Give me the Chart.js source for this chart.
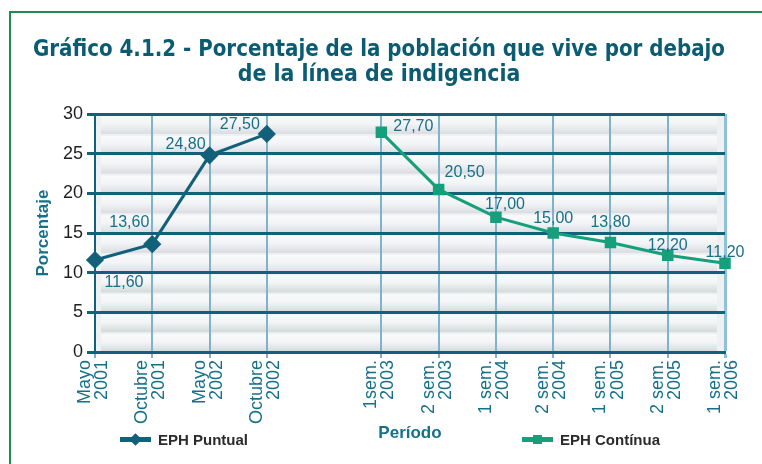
<!DOCTYPE html>
<html>
<head>
<meta charset="utf-8">
<script src="https://cdn.jsdelivr.net/npm/chart.js@4.4.1/dist/chart.umd.min.js"></script>
<style>
  html, body { margin: 0; padding: 0; background: #fff; overflow: hidden; }
  #wrap { position: relative; width: 762px; height: 464px; }
  #frame { position: absolute; left: 9px; top: 11px; width: 800px; height: 500px;
           border-left: 2px solid #1f8b52; border-top: 2px solid #1f8b52; }
  #chartBox { position: absolute; left: 0; top: 0; width: 762px; height: 464px; }
  .legend { position: absolute; top: 431px; font: bold 15px "Liberation Sans", Arial, sans-serif;
            color: #2b2b2b; display: flex; align-items: center; }
  .legend .ln { position: relative; width: 31px; height: 5px; margin-right: 7px; }
  .legend .mk { position: absolute; left: 50%; top: 50%; width: 9px; height: 9px; margin: -4.5px 0 0 -4.5px; }
  .legend .diamond { transform: rotate(45deg); }
</style>
</head>
<body>
<div id="wrap">
  <div id="frame"></div>
  <div id="chartBox"><canvas id="indigenciaChart"></canvas></div>
  <div class="legend" style="left:120px">
    <span class="ln" style="background:#12607a"><span class="mk diamond" style="background:#12607a"></span></span>EPH Puntual
  </div>
  <div class="legend" style="left:522px">
    <span class="ln" style="background:#15a07b"><span class="mk" style="background:#15a07b"></span></span>EPH Contínua
  </div>
</div>
<script>
document.addEventListener('DOMContentLoaded', () => {

    // periodos (el indice 4 queda vacio: hueco entre las dos series)
    const periodos = [
        ['Mayo', '2001'], ['Octubre', '2001'], ['Mayo', '2002'], ['Octubre', '2002'],
        '',
        ['1sem.', '2003'], ['2 sem.', '2003'], ['1 sem.', '2004'], ['2 sem.', '2004'],
        ['1 sem.', '2005'], ['2 sem.', '2005'], ['1 sem.', '2006']
    ];
    const ephPuntual = [11.6, 13.6, 24.8, 27.5, null, null, null, null, null, null, null, null];
    const ephContinua = [null, null, null, null, null, 27.7, 20.5, 17.0, 15.0, 13.8, 12.2, 11.2];
    const yTicks = [0, 5, 10, 15, 20, 25, 30];

    const teal = '#12607a';
    const green = '#15a07b';
    const labelTeal = '#17708a';

    // fondo a franjas del area del grafico
    const stripedBackground = {
        id: 'stripedBackground',
        beforeDraw(chart) {
            const { ctx, chartArea: a, scales: { y } } = chart;
            ctx.save();
            ctx.fillStyle = '#eef0f2';
            ctx.fillRect(a.left, a.top, a.right - a.left, a.bottom - a.top);
            for (let v = 0; v < 30; v += 2.5) {
                const top = y.getPixelForValue(v + 2.5);
                const bot = y.getPixelForValue(v);
                const g = ctx.createLinearGradient(0, top, 0, bot);
                const dark = v < 10 ? '#d0dad6' : '#d9dce1';
                g.addColorStop(0, '#fbfbfc');
                g.addColorStop(0.5, '#f3f4f6');
                g.addColorStop(1, dark);
                ctx.fillStyle = g;
                ctx.fillRect(a.left + 6, top + 2, a.right - a.left - 14, bot - top - 2);
            }
            ctx.restore();
        }
    };

    // etiquetas de valor junto a cada punto
    const valueLabels = {
        id: 'valueLabels',
        afterDatasetsDraw(chart, args, opts) {
            const { ctx } = chart;
            ctx.save();
            ctx.font = '16px "Liberation Sans", Arial, sans-serif';
            ctx.fillStyle = labelTeal;
            ctx.textAlign = 'center';
            ctx.textBaseline = 'middle';
            chart.data.datasets.forEach((ds, di) => {
                const meta = chart.getDatasetMeta(di);
                const offs = opts.offsets[di];
                let k = 0;
                ds.data.forEach((v, i) => {
                    if (v === null) return;
                    const p = meta.data[i];
                    const o = offs[k++];
                    ctx.fillText(v.toFixed(2).replace('.', ','), p.x + o[0], p.y + o[1]);
                });
            });
            ctx.restore();
        }
    };

    const ctx = document.getElementById('indigenciaChart').getContext('2d');
    new Chart(ctx, {
        type: 'line',
        data: {
            labels: periodos,
            datasets: [{
                label: 'EPH Puntual',
                data: ephPuntual,
                borderColor: teal,
                backgroundColor: teal,
                borderWidth: 3,
                pointStyle: 'rectRot',
                pointRadius: 7,
                pointHoverRadius: 7,
                spanGaps: false
            }, {
                label: 'EPH Contínua',
                data: ephContinua,
                borderColor: green,
                backgroundColor: green,
                borderWidth: 3,
                pointStyle: 'rect',
                pointRadius: 6,
                pointHoverRadius: 6,
                spanGaps: false
            }]
        },
        options: {
            responsive: true,
            maintainAspectRatio: false,
            animation: false,
            layout: { padding: { left: 33, right: 37, top: 0, bottom: 20 } },
            scales: {
                x: {
                    type: 'category',
                    offset: false,
                    afterFit: (scale) => { scale.height = 92; },
                    grid: {
                        offset: false,
                        color: (c) => periodos[c.index] === '' ? 'rgba(0,0,0,0)' : (c.index === 11 ? '#8ec1da' : '#7fb2cd'),
                        lineWidth: (c) => c.index === 11 ? 3 : 2,
                        tickLength: 6
                    },
                    border: { color: teal, width: 3 },
                    ticks: {
                        autoSkip: false,
                        maxRotation: 90,
                        minRotation: 90,
                        labelOffset: -10,
                        color: labelTeal,
                        padding: 2,
                        font: { family: '"Liberation Sans", Arial, sans-serif', size: 18, lineHeight: 0.95 }
                    },
                    title: {
                        display: true,
                        text: 'Período',
                        color: labelTeal,
                        padding: { top: 0, bottom: 0 },
                        font: { family: '"Liberation Sans", Arial, sans-serif', size: 17, weight: 'bold' }
                    }
                },
                y: {
                    min: 0,
                    max: 30,
                    afterFit: (scale) => { scale.width = 62; },
                    afterBuildTicks: (scale) => { scale.ticks = yTicks.map(v => ({ value: v })); },
                    grid: { color: teal, lineWidth: 3, tickLength: 8 },
                    border: { color: teal, width: 2 },
                    ticks: {
                        color: '#1f1f1f',
                        padding: 4,
                        font: { family: '"Liberation Sans", Arial, sans-serif', size: 18 }
                    },
                    title: {
                        display: true,
                        text: 'Porcentaje',
                        color: labelTeal,
                        padding: { top: 0, bottom: 0 },
                        font: { family: '"Liberation Sans", Arial, sans-serif', size: 17, weight: 'bold' }
                    }
                }
            },
            plugins: {
                legend: { display: false },
                tooltip: { enabled: false },
                title: {
                    display: true,
                    text: ['Gráfico 4.1.2 - Porcentaje de la población que vive por debajo', 'de la línea de indigencia'],
                    color: '#0b5c73',
                    padding: { top: 37, bottom: 26 },
                    font: { family: '"DejaVu Sans Condensed", sans-serif', size: 22.8, weight: 'bold', lineHeight: 1.12 }
                },
                valueLabels: {
                    offsets: [
                        [[29, 23], [-23, -22], [-24, -11], [-27, -9]],
                        [[32, -6], [26, -17], [9, -13], [0, -14], [0, -20], [0, -10], [0, -11]]
                    ]
                }
            }
        },
        plugins: [stripedBackground, valueLabels]
    });
});
</script>
</body>
</html>
